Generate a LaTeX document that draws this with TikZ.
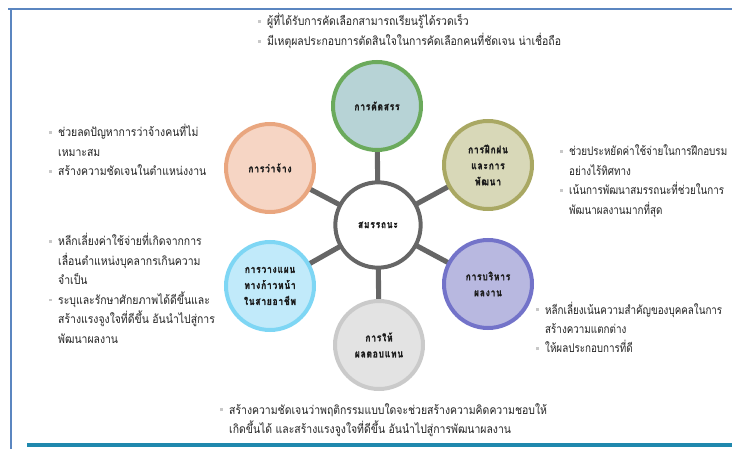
\documentclass[tikz,border=0pt]{standalone}
\usepackage{fontspec}
\usetikzlibrary{backgrounds}
\newfontfamily\thai[Script=Thai,FakeStretch=0.87]{Loma}
\newfontfamily\thain[Script=Thai,FakeStretch=0.82]{Loma}
\newfontfamily\thaisp[Script=Thai,LetterSpace=8,FakeStretch=0.78,BoldFeatures={FakeBold=1.3}]{Loma}
\definecolor{txtcol}{HTML}{222222}
\definecolor{labcol}{HTML}{1A1A1A}
\definecolor{bulcol}{HTML}{C8C8C8}
\definecolor{hubcol}{HTML}{666666}
\definecolor{frameblue}{HTML}{5B86C0}
\definecolor{frameteal}{HTML}{1F88AD}
\definecolor{fA}{HTML}{B7D3D6}\definecolor{sA}{HTML}{6BAA5C}
\definecolor{fB}{HTML}{F6D5C4}\definecolor{sB}{HTML}{E9A67F}
\definecolor{fC}{HTML}{D8D8B8}\definecolor{sC}{HTML}{A9A863}
\definecolor{fD}{HTML}{C1EAFA}\definecolor{sD}{HTML}{7ED6F4}
\definecolor{fE}{HTML}{B8B8E0}\definecolor{sE}{HTML}{7373C9}
\definecolor{fF}{HTML}{E3E3E3}\definecolor{sF}{HTML}{CACACA}
\newcommand\bul{\raisebox{2.2pt}{\textcolor{bulcol}{\rule{2.2pt}{2.2pt}}}}
\begin{document}
\begin{tikzpicture}[x=0.75pt,y=-0.75pt,
  bub/.style={circle, line width=3pt, minimum size=66pt, inner sep=0pt, align=center,
    font=\thaisp\bfseries\fontsize{8}{12}\selectfont, text=labcol},
  link/.style={draw=hubcol, line width=3.8pt},
  txt/.style={anchor=base west, inner sep=0pt, font=\thai\fontsize{9}{14.6}\selectfont, text=txtcol}]
\useasboundingbox (0,0) rectangle (732,449);
% frame
\draw[frameblue, line width=1.6pt] (8,9) -- (732,9);
\draw[frameblue, line width=1.6pt] (11,9) -- (11,449);
\draw[frameteal, line width=2.4pt] (27,445) -- (732,445);
% bubbles
\node[bub, draw=hubcol, fill=white, minimum size=64pt] (hub) at (378,225) {สมรรถนะ};
\node[bub, draw=sA, fill=fA] (sel) at (377,106) {การคัดสรร};
\node[bub, draw=sB, fill=fB] (hire) at (270,168) {การว่าจ้าง};
\node[bub, draw=sC, fill=fC] (train) at (488,165) {การฝึกฝน\\และการ\\พัฒนา};
\node[bub, draw=sD, fill=fD] (plan) at (270,286) {การวางแผน\\ทางก้าวหน้า\\ในสายอาชีพ};
\node[bub, draw=sE, fill=fE] (perf) at (488,284) {การบริหาร\\ผลงาน};
\node[bub, draw=sF, fill=fF] (pay) at (379,345) {การให้\\ผลตอบแทน};
\begin{scope}[on background layer]
\foreach \n in {sel,hire,train,plan,perf,pay}{
  \path[link] (hub.center) -- (\n.center);
}
\end{scope}
% text blocks
\node[txt] (t1) at (258,26) {\begin{tabular}[t]{@{}l@{\hspace{4.5pt}}l@{}}\bul & ผู้ที่ได้รับการคัดเลือกสามารถเรียนรู้ได้รวดเร็ว\\ \bul & มีเหตุผลประกอบการตัดสินใจในการคัดเลือกคนที่ชัดเจน น่าเชื่อถือ\end{tabular}};
\node[txt] (t2) at (49,137) {\begin{tabular}[t]{@{}l@{\hspace{4.5pt}}l@{}}\bul & ช่วยลดปัญหาการว่าจ้างคนที่ไม่\\ & เหมาะสม\\ \bul & สร้างความชัดเจนในตำแหน่งงาน\end{tabular}};
\node[txt] (t3) at (49,246) {\begin{tabular}[t]{@{}l@{\hspace{4.5pt}}l@{}}\bul & หลีกเลี่ยงค่าใช้จ่ายที่เกิดจากการ\\ & เลื่อนตำแหน่งบุคลากรเกินความ\\ & จำเป็น\\ \bul & ระบุและรักษาศักยภาพได้ดีขึ้นและ\\ & สร้างแรงจูงใจที่ดีขึ้น อันนำไปสู่การ\\ & พัฒนาผลงาน\end{tabular}};
\node[txt, font=\thain\fontsize{9}{14.6}\selectfont] (t4) at (560,156) {\begin{tabular}[t]{@{}l@{\hspace{4.5pt}}l@{}}\bul & ช่วยประหยัดค่าใช้จ่ายในการฝึกอบรม\\ & อย่างไร้ทิศทาง\\ \bul & เน้นการพัฒนาสมรรถนะที่ช่วยในการ\\ & พัฒนาผลงานมากที่สุด\end{tabular}};
\node[txt, font=\thain\fontsize{9}{14.6}\selectfont] (t5) at (536,314) {\begin{tabular}[t]{@{}l@{\hspace{4.5pt}}l@{}}\bul & หลีกเลี่ยงเน้นความสำคัญของบุคคลในการ\\ & สร้างความแตกต่าง\\ \bul & ให้ผลประกอบการที่ดี\end{tabular}};
\node[txt] (t6) at (220,414) {\begin{tabular}[t]{@{}l@{\hspace{4.5pt}}l@{}}\bul & สร้างความชัดเจนว่าพฤติกรรมแบบใดจะช่วยสร้างความคิดความชอบให้\\ & เกิดขึ้นได้ และสร้างแรงจูงใจที่ดีขึ้น อันนำไปสู่การพัฒนาผลงาน\end{tabular}};
\end{tikzpicture}
\end{document}
